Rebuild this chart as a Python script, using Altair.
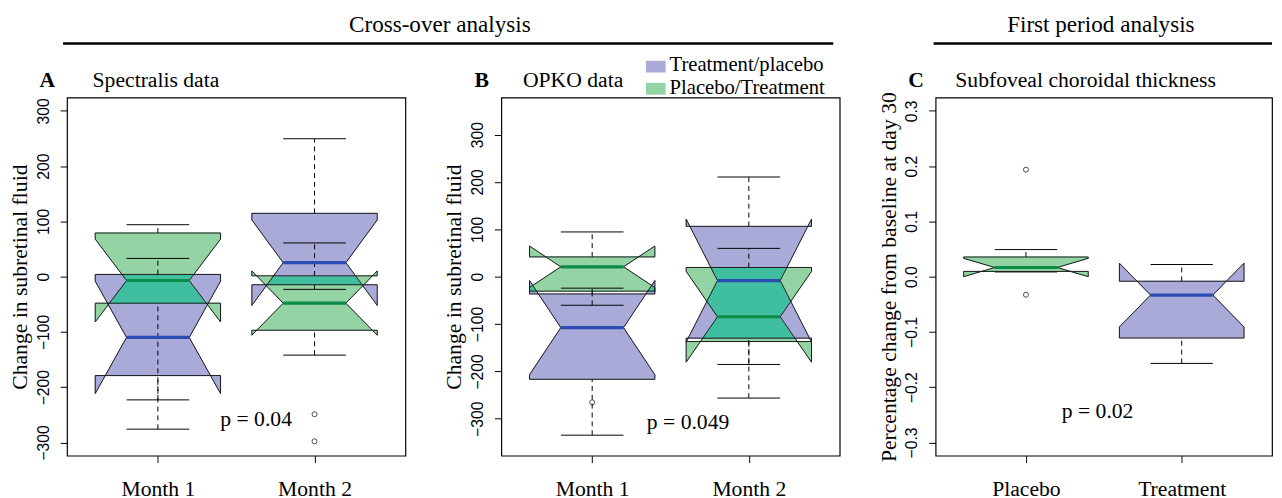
import altair as alt
import pandas as pd

# ------------------------------------------------------------------
# Values
# ------------------------------------------------------------------
A_cats = ["Month 1", "Month 2"]
A_tp = dict(q1=[-179, -14.6], q3=[4, 114.6], med=[-110, 25.3], nlo=[-211.5, -52.0],
            nhi=[-8.1, 102.6], wlo=[-276, -23], whi=[33, 249.6])
A_pt = dict(q1=[-48, -97], q3=[79, 1.5], med=[-7, -48], nlo=[-82, -106],
            nhi=[68, 10.4], wlo=[-223, -142], whi=[94, 61])
A_out_pos = [2, 2]
A_out_val = [-249, -298]

B_cats = ["Month 1", "Month 2"]
B_tp = dict(q1=[-216.7, -129.8], q3=[-36.5, 106.2], med=[-107.6, -8.3], nlo=[-207, -138.1],
            nhi=[-8.2, 121.5], wlo=[-334.7, -256.3], whi=[-24.3, 210.4])
B_pt = dict(q1=[-30.6, -137], q3=[41.7, 19.4], med=[20.8, -84.7], nlo=[-23, -180.5],
            nhi=[64.6, 11.1], wlo=[-60.4, -185.4], whi=[94.4, 59.7])
B_out_pos = [1]
B_out_val = [-265.3]

C_cats = ["Placebo", "Treatment"]
C_pl = dict(q1=[0.0095], q3=[0.0356], med=[0.0166], nlo=[0.0], nhi=[0.0332],
            wlo=[0.0085], whi=[0.049])
C_tr = dict(q1=[-0.111], q3=[-0.0083], med=[-0.0333], nlo=[-0.091], nhi=[0.0244],
            wlo=[-0.157], whi=[0.022])
C_out_pos = [1, 1]
C_out_val = [0.1937, -0.0327]

legend_labels = ["Treatment/placebo", "Placebo/Treatment"]

# ------------------------------------------------------------------
# Styling
# ------------------------------------------------------------------
SERIF = "Liberation Serif"
SANS = "Liberation Sans"
FILL = {"tp": "#aaaad9", "pt": "#94d3a3", "both": "#40bea0"}
MEDC = {"tp": "#2b4db3", "pt": "#0b8c46"}
W = 0.4      # half box width (boxwex 0.8)
NF = 0.5     # notch fraction
XDOM = [0.42, 2.58]


def box_poly(c, q1, q3, med, nlo, nhi):
    xs = [c - W, c + W, c + W, c + NF * W, c + W, c + W, c - W, c - W, c - NF * W, c - W]
    ys = [q1, q1, nlo, med, nhi, q3, q3, nhi, med, nlo]
    return list(zip(xs, ys))


def poly_edges(p):
    out = []
    n = len(p)
    for i in range(n):
        (x0, y0), (x1, y1) = p[i], p[(i + 1) % n]
        if y1 != y0:
            out.append((x0, y0, x1, y1))
    return out


def x_at(e, y):
    x0, y0, x1, y1 = e
    return x0 + (x1 - x0) * (y - y0) / (y1 - y0)


def inter_y(e1, e2):
    x1, y1, x2, y2 = e1
    x3, y3, x4, y4 = e2
    d = (x1 - x2) * (y3 - y4) - (y1 - y2) * (x3 - x4)
    if d == 0:
        return None
    t = ((x1 - x3) * (y3 - y4) - (y1 - y3) * (x3 - x4)) / d
    u = -((x1 - x2) * (y1 - y3) - (y1 - y2) * (x1 - x3)) / d
    if 0 <= t <= 1 and 0 <= u <= 1:
        return y1 + t * (y2 - y1)
    return None


def fill_pieces(polys):
    """Non-zero winding fill of overlapping notched boxes, split by membership."""
    edges, ys = [], set()
    for k, (key, p) in enumerate(polys):
        for e in poly_edges(p):
            edges.append((k, e))
        for _, y in p:
            ys.add(y)
    for i in range(len(edges)):
        for j in range(i + 1, len(edges)):
            y = inter_y(edges[i][1], edges[j][1])
            if y is not None:
                ys.add(y)
    ys = sorted(ys)
    span = ys[-1] - ys[0]
    pieces = []
    for ya, yb in zip(ys[:-1], ys[1:]):
        if yb - ya < span * 1e-9:
            continue
        ym = (ya + yb) / 2
        act = []
        for k, e in edges:
            lo, hi = min(e[1], e[3]), max(e[1], e[3])
            if lo < ym < hi:
                act.append((x_at(e, ym), k, 1 if e[3] > e[1] else -1, e))
        act.sort(key=lambda a: a[0])
        wind = [0] * len(polys)
        for i in range(len(act) - 1):
            wind[act[i][1]] += act[i][2]
            mem = [polys[m][0] for m in range(len(polys)) if wind[m] != 0]
            if not mem:
                continue
            reg = "both" if len(mem) > 1 else mem[0]
            el, er = act[i][3], act[i + 1][3]
            pieces.append((reg, ya, yb, x_at(el, ya), x_at(er, ya), x_at(el, yb), x_at(er, yb)))
    return pieces


def make_panel(cats, series, out_pos, out_val, ydom, yticks, yfmt, ytitle,
               letter, title, title_dx, ptext, px, py, width, extra=None):
    height = 364
    xs = alt.Scale(domain=XDOM, nice=False, zero=False)
    ys = alt.Scale(domain=ydom, nice=False, zero=False)
    expr = "[" + ",".join("'" + c + "'" for c in cats) + "][datum.value - 1]"
    xaxis = alt.Axis(values=[1, 2], labelExpr=expr, title=None, grid=False, domain=False,
                     tickSize=7, tickColor="black", labelFont=SERIF, labelFontSize=22,
                     labelColor="black", labelPadding=16, labelBaseline="top")
    yaxis = alt.Axis(values=yticks, format=yfmt, title=ytitle, grid=False, domain=False,
                     tickSize=7, tickColor="black", labelFont=SANS, labelFontSize=16,
                     labelColor="black", labelAngle=270, labelAlign="center",
                     labelBaseline="bottom", labelPadding=9, titleFont=SERIF,
                     titleFontSize=22, titleFontWeight="normal", titleColor="black",
                     titlePadding=4, titleLimit=1000)

    by_pos = {}
    for key, pos, st in series:
        for i, c in enumerate(pos):
            d = {k: v[i] for k, v in st.items()}
            by_pos.setdefault(c, []).append((key, d))

    area_rows, line_rows, med_rows, wh_rows, cap_rows = [], [], [], [], []
    pid = 0
    for c, boxes in by_pos.items():
        polys = []
        for key, d in boxes:
            p = box_poly(c, d["q1"], d["q3"], d["med"], d["nlo"], d["nhi"])
            polys.append((key, p))
            bid = f"{key}{c}"
            for o, (x, y) in enumerate(p + [p[0]]):
                line_rows.append(dict(id=bid, o=o, x=x, y=y))
            med_rows.append(dict(s=key, x=c - NF * W, x2=c + NF * W, y=d["med"]))
            wh_rows.append(dict(x=c, y=d["q3"], y2=d["whi"]))
            wh_rows.append(dict(x=c, y=d["wlo"], y2=d["q1"]))
            cap_rows.append(dict(x=c - W / 2, x2=c + W / 2, y=d["whi"]))
            cap_rows.append(dict(x=c - W / 2, x2=c + W / 2, y=d["wlo"]))
        for reg, ya, yb, xla, xra, xlb, xrb in fill_pieces(polys):
            area_rows.append(dict(id=pid, r=reg, y=ya, xl=xla, xr=xra))
            area_rows.append(dict(id=pid, r=reg, y=yb, xl=xlb, xr=xrb))
            pid += 1

    cscale = alt.Scale(domain=list(FILL.keys()), range=list(FILL.values()))
    areas = alt.Chart(pd.DataFrame(area_rows)).mark_area(
        orient="horizontal", strokeWidth=1).encode(
        y=alt.Y("y:Q", scale=ys, axis=yaxis),
        x=alt.X("xl:Q", scale=xs, axis=xaxis),
        x2="xr:Q",
        detail="id:N",
        fill=alt.Fill("r:N", scale=cscale, legend=None),
        stroke=alt.Stroke("r:N", scale=cscale, legend=None),
    )
    whisk = alt.Chart(pd.DataFrame(wh_rows)).mark_rule(
        color="black", strokeWidth=1, strokeDash=[5, 4]).encode(
        x=alt.X("x:Q", scale=xs), y=alt.Y("y:Q", scale=ys), y2="y2:Q")
    caps = alt.Chart(pd.DataFrame(cap_rows)).mark_rule(color="black", strokeWidth=1).encode(
        x=alt.X("x:Q", scale=xs), x2="x2:Q", y=alt.Y("y:Q", scale=ys))
    outline = alt.Chart(pd.DataFrame(line_rows)).mark_line(
        color="#1a1a1a", strokeWidth=1).encode(
        x=alt.X("x:Q", scale=xs), y=alt.Y("y:Q", scale=ys),
        order="o:Q", detail="id:N")
    meds = alt.Chart(pd.DataFrame(med_rows)).mark_rule(strokeWidth=3.2).encode(
        x=alt.X("x:Q", scale=xs), x2="x2:Q", y=alt.Y("y:Q", scale=ys),
        color=alt.Color("s:N", scale=alt.Scale(domain=list(MEDC.keys()),
                                               range=list(MEDC.values())), legend=None))
    outl = alt.Chart(pd.DataFrame({"x": out_pos, "y": out_val})).mark_point(
        shape="circle", filled=False, size=26, color="black", strokeWidth=1).encode(
        x=alt.X("x:Q", scale=xs), y=alt.Y("y:Q", scale=ys))
    ptxt = alt.Chart(pd.DataFrame({"t": [ptext], "x": [px], "y": [py]})).mark_text(
        font=SERIF, fontSize=22, align="center", baseline="alphabetic", color="black").encode(
        x=alt.X("x:Q", scale=xs), y=alt.Y("y:Q", scale=ys), text="t:N")
    lab = alt.Chart(pd.DataFrame({"t": [letter]})).mark_text(
        font=SERIF, fontSize=22, fontWeight="bold", align="center",
        baseline="alphabetic", color="black").encode(
        text="t:N", x=alt.value(-20), y=alt.value(-11))
    ttl = alt.Chart(pd.DataFrame({"t": [title]})).mark_text(
        font=SERIF, fontSize=22, align="left", baseline="alphabetic", color="black").encode(
        text="t:N", x=alt.value(title_dx), y=alt.value(-11))
    layers = [areas, whisk, caps, outline, meds, outl, ptxt, lab, ttl]
    if extra:
        layers += extra
    return alt.layer(*layers).properties(width=width, height=height)


def header(text, cx, x0, x1):
    t = alt.Chart(pd.DataFrame({"t": [text]})).mark_text(
        font=SERIF, fontSize=23.5, align="center", baseline="alphabetic", color="black").encode(
        text="t:N", x=alt.value(cx), y=alt.value(-67))
    r = alt.Chart(pd.DataFrame({"t": [text]})).mark_rule(color="black", strokeWidth=2.6).encode(
        x=alt.value(x0), x2=alt.value(x1), y=alt.value(-55))
    return [t, r]


def legend_layers():
    out = []
    for i, (lbl, key) in enumerate(zip(legend_labels, ["tp", "pt"])):
        sq = alt.Chart(pd.DataFrame({"t": [lbl]})).mark_rect(color=FILL[key]).encode(
            x=alt.value(147), x2=alt.value(167),
            y=alt.value(-37.5 + 22.5 * i), y2=alt.value(-25.5 + 22.5 * i))
        tx = alt.Chart(pd.DataFrame({"t": [lbl]})).mark_text(
            font=SERIF, fontSize=21, align="left", baseline="alphabetic", color="black").encode(
            text="t:N", x=alt.value(171), y=alt.value(-27 + 23 * i))
        out += [sq, tx]
    return out


ticks_AB = [-300, -200, -100, 0, 100, 200, 300]
ticks_C = [-0.3, -0.2, -0.1, 0.0, 0.1, 0.2, 0.3]

pA = make_panel(A_cats, [("tp", [1, 2], A_tp), ("pt", [1, 2], A_pt)], A_out_pos, A_out_val,
                [-324, 324], ticks_AB, "d", "Change in subretinal fluid",
                "A", "Spectralis data", 26, "p = 0.04", 1.627, -270.5, 344,
                extra=header("Cross-over analysis", 379, -4, 779))
pB = make_panel(B_cats, [("tp", [1, 2], B_tp), ("pt", [1, 2], B_pt)], B_out_pos, B_out_val,
                [-378, 378], ticks_AB, "d", "Change in subretinal fluid",
                "B", "OPKO data", 22, "p = 0.049", 1.612, -320.8, 344,
                extra=legend_layers())
pC = make_panel(C_cats, [("pt", [1], C_pl), ("tp", [2], C_tr)], C_out_pos, C_out_val,
                [-0.324, 0.324], ticks_C, ".1f", "Percentage change from baseline at day 30",
                "C", "Subfoveal choroidal thickness", 20, "p = 0.02", 1.46, -0.2555, 342,
                extra=header("First period analysis", 168, -2, 342))

chart = alt.hconcat(pA, pB, pC, spacing=97.5, bounds="flush").resolve_scale(
    fill="independent", stroke="independent", color="independent"
).configure_view(stroke="black", strokeWidth=1.2).properties(
    padding={"left": 0, "top": 0, "right": 0, "bottom": 0}, background="white")

chart.save("out.html", embed_options={"renderer": "svg", "actions": False})
